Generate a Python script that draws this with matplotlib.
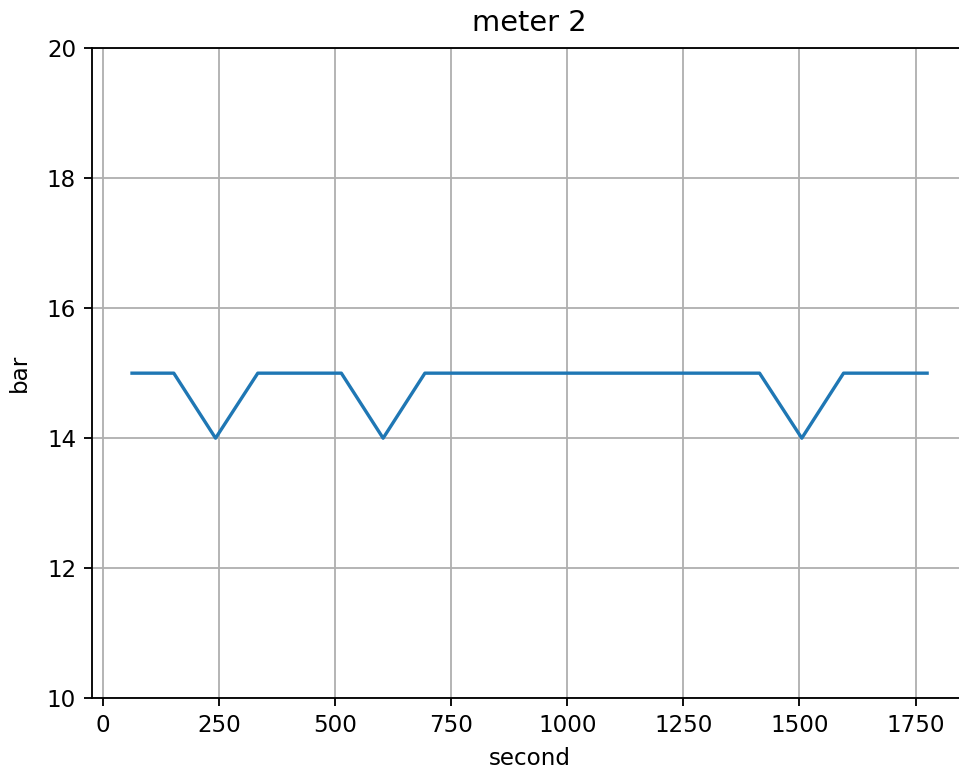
import matplotlib
matplotlib.use("Agg")
import matplotlib.pyplot as plt

# meter 2 pressure readings
seconds = [62, 152, 242, 333, 423, 513, 603, 693, 783, 873,
           964, 1054, 1144, 1234, 1324, 1414, 1505, 1595, 1685, 1775]
pressure = [15, 15, 14, 15, 15, 15, 14, 15, 15, 15,
            15, 15, 15, 15, 15, 15, 14, 15, 15, 15]

dpi = 166
fig = plt.figure(figsize=(959 / dpi, 775 / dpi), dpi=dpi)
ax = fig.add_axes([0.0962, 0.099, 0.912, 0.839])

ax.plot(seconds, pressure, lw=1.45)
ax.set_ylim(10, 20)
ax.grid(True)

ax.set_title("meter 2", fontsize=12.5, pad=7.5)
ax.set_xlabel("second")
ax.set_ylabel("bar", labelpad=7)

fig.savefig("out.png", dpi=dpi)
